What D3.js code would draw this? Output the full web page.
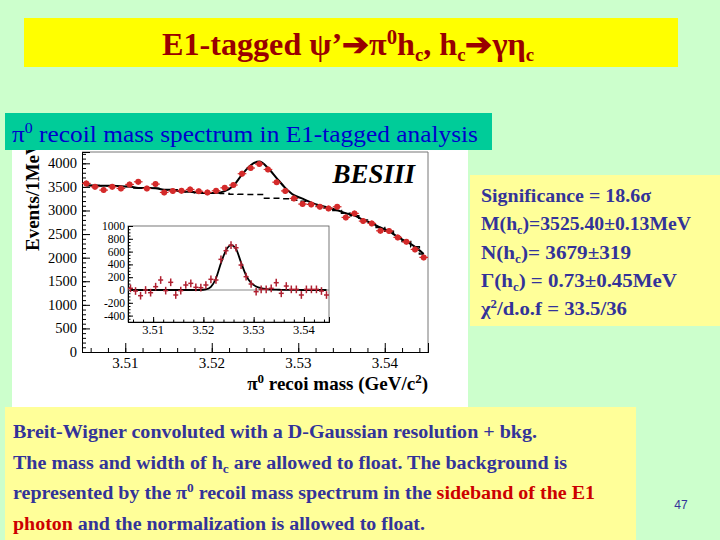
<!DOCTYPE html>
<html>
<head>
	<meta charset='utf-8'>
	<script src="https://cdnjs.cloudflare.com/ajax/libs/d3/7.8.5/d3.min.js"></script>
	<style>
	body { margin:0; background:#ccffcc; }
	svg { display:block; }
	</style>
</head>
<body>
<script>

// bin centres of the pi0 recoil mass histogram (GeV/c2), 1 MeV bins
var massBins = [3.5055,3.5065,3.5075,3.5085,3.5095,3.5105,3.5115,3.5125,3.5135,3.5145,
	3.5155,3.5165,3.5175,3.5185,3.5195,3.5205,3.5215,3.5225,3.5235,3.5245,
	3.5255,3.5265,3.5275,3.5285,3.5295,3.5305,3.5315,3.5325,3.5335,3.5345,
	3.5355,3.5365,3.5375,3.5385,3.5395,3.5405,3.5415,3.5425,3.5435,3.5445];

// main plot: events per bin, background shape (sideband) and errors
var mainCounts = [3574,3502,3432,3502,3467,3552,3608,3467,3560,3383,
	3411,3418,3446,3408,3383,3418,3481,3540,3780,3900,
	3985,3870,3600,3415,3256,3136,3129,3079,3044,3079,
	2853,2938,2775,2726,2570,2563,2430,2337,2175,2006];
var bkgShape = [3530,3528,3525,3522,3512,3508,3478,3475,3472,3440,
	3438,3400,3395,3375,3370,3365,3360,3345,3342,3340,
	3338,3262,3258,3250,3215,3195,3140,3090,3050,3000,
	2940,2890,2800,2730,2640,2560,2440,2340,2230,2080];
var countErr = 60;

// inset: background subtracted events and signal fit
var insetCounts = [26,-16,-89,0,-42,52,156,-10,120,-78,
	-10,78,104,42,36,78,167,156,479,614,
	700,660,390,208,94,-26,10,10,26,114,
	-52,62,10,10,-78,10,10,10,-16,-78];
var signalFit = [0,0,0,0,0,0,0,0,0,0,
	0,0,0,0,0,8,50,180,420,620,
	700,640,430,230,110,55,28,15,8,5,
	3,2,1,1,0,0,0,0,0,0];

var mainYTicks = [0,500,1000,1500,2000,2500,3000,3500,4000];
var insetYTicks = [-400,-200,0,200,400,600,800,1000];
var massTicks = [3.51,3.52,3.53,3.54];

// text segments: [text, role] ; role: n normal, sub, sup, r red
var fitLines = [
	[['Significance = 18.6σ', 'n']],
	[['M(h', 'n'], ['c', 'sub'], [')=3525.40±0.13MeV', 'n']],
	[['N(h', 'n'], ['c', 'sub'], [')= 3679±319', 'n']],
	[['Γ(h', 'n'], ['c', 'sub'], [') = 0.73±0.45MeV', 'n']],
	[['χ', 'n'], ['2', 'sup'], ['/d.o.f = 33.5/36', 'n']]
];
var fitWidths = [170, 210, 150, 196, 146];
var descLines = [
	[['Breit-Wigner convoluted with a D-Gaussian resolution + bkg.', 'n']],
	[['The mass and width of h', 'n'], ['c', 'sub'], [' are allowed to float. The background is', 'n']],
	[['represented by the π', 'n'], ['0', 'sup'], [' recoil mass spectrum in the ', 'n'], ['sideband of the E1', 'r']],
	[['photon', 'r'], [' and the normalization is allowed to float.', 'n']]
];
var descWidths = [524, 554, 582, 412];

var W = 720, H = 540;
var navy = '#333399', red = '#cc0000', pointRed = '#d42a2a';
var serif = 'Liberation Serif';

var svg = d3.select('body').append('svg').attr('width', W).attr('height', H);
svg.append('rect').attr('width', W).attr('height', H).attr('fill', '#ccffcc');

function writeSegs(t, segs, col, small) {
	var shift = 0;
	segs.forEach(function (s) {
		var ts = t.append('tspan').text(s[0]).attr('fill', s[1] === 'r' ? red : col);
		var target = s[1] === 'sub' ? 4 : (s[1] === 'sup' ? -7 : 0);
		if (target !== shift) { ts.attr('dy', target - shift); shift = target; }
		if (s[1] === 'sub' || s[1] === 'sup') ts.attr('font-size', small);
	});
}

// title
svg.append('rect').attr('x', 24).attr('y', 18).attr('width', 654).attr('height', 49).attr('fill', '#ffff00');
var title = svg.append('text').attr('x', 162).attr('y', 55)
	.attr('font-family', serif).attr('font-weight', 'bold').attr('font-size', 31).attr('fill', '#990000')
	.attr('textLength', 372).attr('lengthAdjust', 'spacingAndGlyphs');
title.append('tspan').text('E1-tagged ψ’➔π');
title.append('tspan').attr('font-size', 20).attr('dy', -11).text('0');
title.append('tspan').attr('dy', 11).text('h');
title.append('tspan').attr('font-size', 18).attr('dy', 6).text('c');
title.append('tspan').attr('dy', -6).text(', h');
title.append('tspan').attr('font-size', 18).attr('dy', 6).text('c');
title.append('tspan').attr('dy', -6).text('➔γη');
title.append('tspan').attr('font-size', 18).attr('dy', 6).text('c');

// white picture area
svg.append('rect').attr('x', 12).attr('y', 150).attr('width', 456).attr('height', 257).attr('fill', '#ffffff');

var x = d3.scaleLinear().domain([3.505, 3.545]).range([82, 428]);
var y = d3.scaleLinear().domain([0, 4240]).range([352, 152]);
var xi = d3.scaleLinear().domain([3.505, 3.545]).range([128, 329]);
var yi = d3.scaleLinear().domain([-500, 1000]).range([322, 226]);

var plot = svg.append('g');

// frame
plot.append('path').attr('d', 'M' + x.range()[0] + ',' + y.range()[1] + 'H' + x.range()[1] + 'V' + y.range()[0])
	.attr('fill', 'none').attr('stroke', '#777').attr('stroke-width', 1);

function blackAxis(g) { g.selectAll('path,line').attr('stroke', '#000'); }

// main axes with inward ticks
var yAxis = d3.axisRight(y).tickValues(mainYTicks).tickSize(8).tickFormat('');
var yMinor = d3.axisRight(y).tickValues(d3.range(0, 4240, 100)).tickSize(4).tickFormat('');
[yMinor, yAxis].forEach(function (a) {
	plot.append('g').attr('transform', 'translate(' + x.range()[0] + ',0)').call(a).call(blackAxis);
});
var xAxis = d3.axisTop(x).tickValues(massTicks).tickSize(9).tickFormat('');
var xMinor = d3.axisTop(x).tickValues(d3.range(3.506, 3.545, 0.002)).tickSize(4).tickFormat('');
[xMinor, xAxis].forEach(function (a) {
	plot.append('g').attr('transform', 'translate(0,' + y.range()[0] + ')').call(a).call(blackAxis);
});
plot.selectAll('.ylab').data(mainYTicks).enter().append('text')
	.attr('x', 77).attr('y', function (d) { return y(d) + 5; }).attr('text-anchor', 'end')
	.attr('font-family', serif).attr('font-size', 14.5).text(function (d) { return d; });
plot.selectAll('.xlab').data(massTicks).enter().append('text')
	.attr('x', function (d) { return x(d); }).attr('y', 368).attr('text-anchor', 'middle')
	.attr('font-family', serif).attr('font-size', 15).text(function (d) { return d3.format('.2f')(d); });

var xl = plot.append('text').attr('x', 428).attr('y', 390).attr('text-anchor', 'end')
	.attr('font-family', serif).attr('font-weight', 'bold').attr('font-size', 19);
xl.append('tspan').text('π');
xl.append('tspan').attr('font-size', 13).attr('dy', -7).text('0');
xl.append('tspan').attr('dy', 7).text(' recoi mass (GeV/c');
xl.append('tspan').attr('font-size', 13).attr('dy', -7).text('2');
xl.append('tspan').attr('dy', 7).text(')');

plot.append('text').attr('transform', 'translate(39,251) rotate(-90)')
	.attr('font-family', serif).attr('font-weight', 'bold').attr('font-size', 19).text('Events/1MeV');

plot.append('text').attr('x', 415).attr('y', 183).attr('text-anchor', 'end')
	.attr('font-family', serif).attr('font-weight', 'bold').attr('font-style', 'italic').attr('font-size', 27).text('BESIII');

// background (dashed) and total fit (solid)
var mainBins = massBins.map(function (m, i) {
	return { m: m, n: mainCounts[i], bkg: bkgShape[i], tot: bkgShape[i] + signalFit[i] };
});
plot.append('path').datum(mainBins)
	.attr('d', d3.line().x(function (d) { return x(d.m); }).y(function (d) { return y(d.bkg); }).curve(d3.curveStep))
	.attr('fill', 'none').attr('stroke', '#000').attr('stroke-width', 1.5).attr('stroke-dasharray', '6,4');
plot.append('path').datum(mainBins)
	.attr('d', d3.line().x(function (d) { return x(d.m); }).y(function (d) { return y(d.tot); }).curve(d3.curveMonotoneX))
	.attr('fill', 'none').attr('stroke', '#000').attr('stroke-width', 2);

var pts = plot.selectAll('.pt').data(mainBins).enter().append('g');
pts.append('line').attr('x1', function (d) { return x(d.m - 0.0005); }).attr('x2', function (d) { return x(d.m + 0.0005); })
	.attr('y1', function (d) { return y(d.n); }).attr('y2', function (d) { return y(d.n); })
	.attr('stroke', pointRed).attr('stroke-width', 1.2);
pts.append('line').attr('x1', function (d) { return x(d.m); }).attr('x2', function (d) { return x(d.m); })
	.attr('y1', function (d) { return y(d.n - countErr); }).attr('y2', function (d) { return y(d.n + countErr); })
	.attr('stroke', pointRed).attr('stroke-width', 1.2);
pts.append('circle').attr('cx', function (d) { return x(d.m); }).attr('cy', function (d) { return y(d.n); })
	.attr('r', 3).attr('fill', pointRed);

// inset
var inset = plot.append('g');
inset.append('rect').attr('x', xi.range()[0]).attr('y', yi.range()[1])
	.attr('width', xi.range()[1] - xi.range()[0]).attr('height', yi.range()[0] - yi.range()[1])
	.attr('fill', '#fff').attr('stroke', '#555').attr('stroke-width', 0.8);
var iyAxis = d3.axisRight(yi).tickValues(insetYTicks).tickSize(5).tickFormat('');
var iyMinor = d3.axisRight(yi).tickValues(d3.range(-500, 1001, 50)).tickSize(2.5).tickFormat('');
[iyMinor, iyAxis].forEach(function (a) {
	inset.append('g').attr('transform', 'translate(' + xi.range()[0] + ',0)').call(a).call(blackAxis);
});
var ixAxis = d3.axisTop(xi).tickValues(massTicks).tickSize(5).tickFormat('');
var ixMinor = d3.axisTop(xi).tickValues(d3.range(3.506, 3.545, 0.002)).tickSize(2.5).tickFormat('');
[ixMinor, ixAxis].forEach(function (a) {
	inset.append('g').attr('transform', 'translate(0,' + yi.range()[0] + ')').call(a).call(blackAxis);
});
inset.selectAll('.iyl').data(insetYTicks).enter().append('text')
	.attr('x', 125).attr('y', function (d) { return yi(d) + 4; }).attr('text-anchor', 'end')
	.attr('font-family', serif).attr('font-size', 11.5).text(function (d) { return d; });
inset.selectAll('.ixl').data(massTicks).enter().append('text')
	.attr('x', function (d) { return xi(d); }).attr('y', 334).attr('text-anchor', 'middle')
	.attr('font-family', serif).attr('font-size', 12.5).text(function (d) { return d3.format('.2f')(d); });
inset.append('line').attr('x1', xi.range()[0]).attr('x2', xi.range()[1]).attr('y1', yi(0)).attr('y2', yi(0))
	.attr('stroke', '#888').attr('stroke-width', 1);

var insetBins = massBins.map(function (m, i) { return { m: m, n: insetCounts[i], f: signalFit[i] }; });
inset.append('path').datum(insetBins)
	.attr('d', d3.line().x(function (d) { return xi(d.m); }).y(function (d) { return yi(d.f); }).curve(d3.curveMonotoneX))
	.attr('fill', 'none').attr('stroke', '#000').attr('stroke-width', 1.8);
var ipts = inset.selectAll('.ipt').data(insetBins).enter().append('g');
ipts.append('line').attr('x1', function (d) { return xi(d.m - 0.0005); }).attr('x2', function (d) { return xi(d.m + 0.0005); })
	.attr('y1', function (d) { return yi(d.n); }).attr('y2', function (d) { return yi(d.n); })
	.attr('stroke', '#b02030').attr('stroke-width', 1.5);
ipts.append('line').attr('x1', function (d) { return xi(d.m); }).attr('x2', function (d) { return xi(d.m); })
	.attr('y1', function (d) { return yi(d.n - countErr); }).attr('y2', function (d) { return yi(d.n + countErr); })
	.attr('stroke', '#b02030').attr('stroke-width', 1.5);

// section header (overlaps the top of the picture)
svg.append('rect').attr('x', 5).attr('y', 113).attr('width', 487).attr('height', 37).attr('fill', '#00cc99');
var sub = svg.append('text').attr('x', 12).attr('y', 142)
	.attr('font-family', serif).attr('font-size', 24).attr('fill', '#0000cc')
	.attr('textLength', 466).attr('lengthAdjust', 'spacingAndGlyphs');
sub.append('tspan').text('π');
sub.append('tspan').attr('font-size', 15).attr('dy', -9).text('0');
sub.append('tspan').attr('dy', 9).text(' recoil mass spectrum in E1-tagged analysis');

// fit results box
svg.append('rect').attr('x', 470).attr('y', 175).attr('width', 250).attr('height', 151).attr('fill', '#ffff99');
fitLines.forEach(function (segs, i) {
	var t = svg.append('text').attr('x', 481).attr('y', 202 + i * 28.3)
		.attr('font-family', serif).attr('font-weight', 'bold').attr('font-size', 19.5)
		.attr('textLength', fitWidths[i]).attr('lengthAdjust', 'spacingAndGlyphs');
	writeSegs(t, segs, navy, 12);
});

// description box
svg.append('rect').attr('x', 5).attr('y', 407).attr('width', 631).attr('height', 133).attr('fill', '#ffff99');
descLines.forEach(function (segs, i) {
	var t = svg.append('text').attr('x', 13).attr('y', 438 + i * 30.7)
		.attr('font-family', serif).attr('font-weight', 'bold').attr('font-size', 18)
		.attr('textLength', descWidths[i]).attr('lengthAdjust', 'spacingAndGlyphs');
	writeSegs(t, segs, navy, 12);
});

svg.append('text').attr('x', 681).attr('y', 509).attr('text-anchor', 'middle')
	.attr('font-family', 'Liberation Sans').attr('font-size', 12).attr('fill', navy).text('47');

</script>
</body>
</html>
